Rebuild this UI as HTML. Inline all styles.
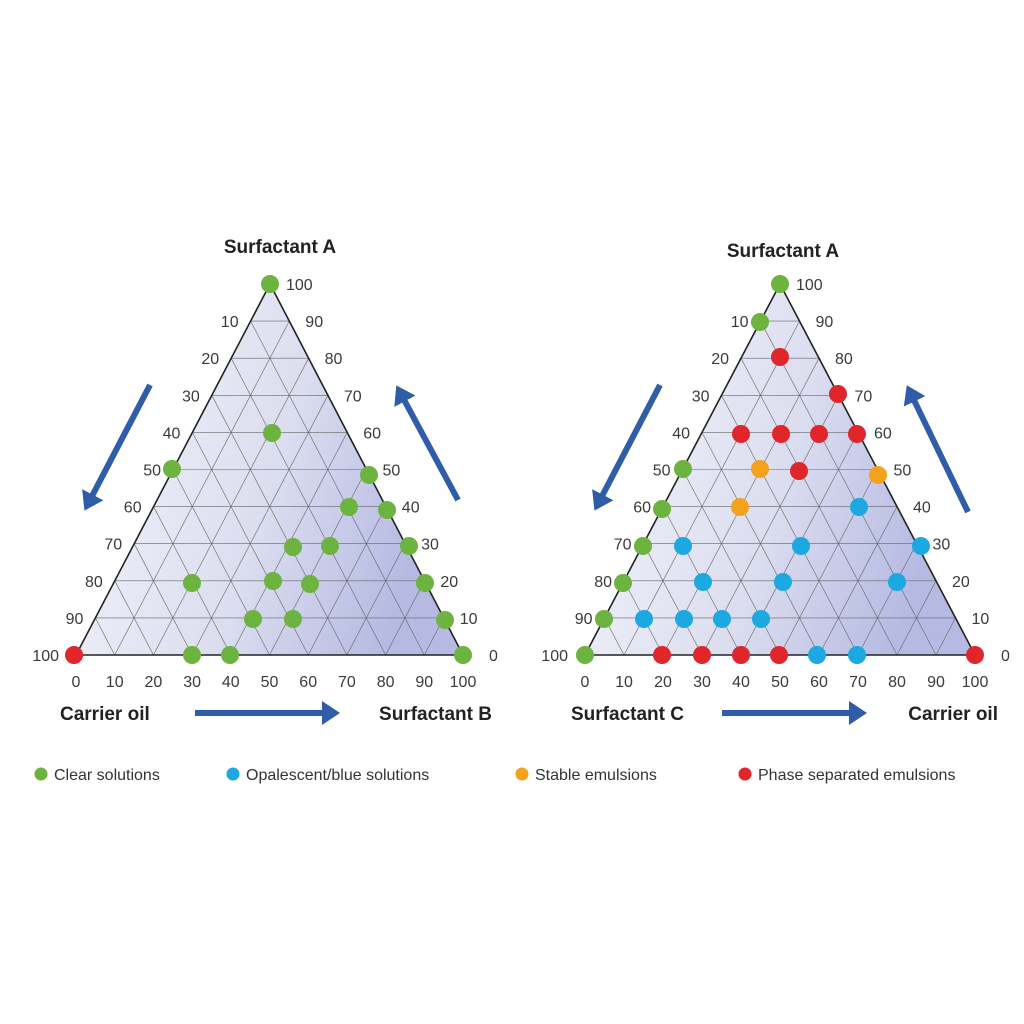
<!DOCTYPE html>
<html><head><meta charset="utf-8"><style>
body{margin:0;background:#fff;}
svg{display:block;font-family:"Liberation Sans",sans-serif;}
.t{font-size:16px;fill:#3a3a3a;}
.h{font-size:19px;font-weight:bold;fill:#222;}
.l{font-size:16px;fill:#333;}
</style></head><body>
<svg id="s" width="1024" height="1024" viewBox="0 0 1024 1024" xmlns="http://www.w3.org/2000/svg">
<defs>
<linearGradient id="g" x1="0" y1="0" x2="1" y2="0.3">
<stop offset="0" stop-color="#f6f7fc"/><stop offset="0.6" stop-color="#dcdef0"/><stop offset="1" stop-color="#b6bae2"/>
</linearGradient>
<marker id="ah" markerWidth="4" markerHeight="4" refX="1" refY="2" orient="auto" markerUnits="strokeWidth"><path d="M0,0 L3,2 L0,4 z" fill="#2f5da8"/></marker>
</defs>
<g id="root"></g>
</svg>
<script>
var NS="http://www.w3.org/2000/svg",root=document.getElementById("root");
function el(t,a,txt){var e=document.createElementNS(NS,t);for(var k in a)e.setAttribute(k,a[k]);if(txt!=null)e.textContent=txt;root.appendChild(e);return e;}
function tri(ax,ay,lx,rx,by){
 el("polygon",{points:ax+","+ay+" "+lx+","+by+" "+rx+","+by,fill:"url(#g)"});
 var H=by-ay;
 for(var i=1;i<10;i++){
  var f=i/10;
  var y=by-H*f, xl=lx+(ax-lx)*f, xr=rx+(ax-rx)*f;
  el("line",{x1:xl,y1:y,x2:xr,y2:y,stroke:"#666",'stroke-width':0.6});
  var bx=lx+(rx-lx)*f;
  el("line",{x1:bx,y1:by,x2:bx+(ax-lx)*(1-f),y2:by-H*(1-f),stroke:"#666",'stroke-width':0.6});
  el("line",{x1:bx,y1:by,x2:bx-(rx-ax)*f,y2:by-H*f,stroke:"#666",'stroke-width':0.6});
 }
 el("polygon",{points:ax+","+ay+" "+lx+","+by+" "+rx+","+by,fill:"none",stroke:"#222",'stroke-width':1.6});
 for(var i=0;i<=10;i++){
  var f=i/10;
  el("text",{x:lx+(rx-lx)*f,y:by+32,'text-anchor':"middle",class:"t"},String(i*10));
  if(i>0){var y=ay+H*f, x=ax+(lx-ax)*f;
   el("text",{x:x-(i==10?17:12),y:y+6,'text-anchor':"end",class:"t"},String(i*10));}
  var y2=by-H*f, x2=rx+(ax-rx)*f;
  el("text",{x:x2+(i==0?26:16),y:y2+6,'text-anchor':"start",class:"t"},String(i*10));
 }
}
tri(270,284,76,463,655);
tri(780,284,585,975,655);
var C={g:"#6cb33f",b:"#1ca9e1",o:"#f4a21c",r:"#e0262b"};
var pts=[
["g",270,284],["g",272,433],["g",172,469],["g",369,475],["g",349,507],["g",387,510],["g",293,547],["g",330,546],["g",409,546],["g",192,583],["g",273,581],["g",310,584],["g",425,583],["g",253,619],["g",293,619],["g",445,620],["g",192,655],["g",230,655],["g",463,655],["r",74,655],
["g",780,284],["g",760,322],["g",683,469],["g",662,509],["g",643,546],["g",623,583],["g",604,619],["g",585,655],
["r",780,357],["r",838,394],["r",741,434],["r",781,434],["r",819,434],["r",857,434],["r",799,471],["r",662,655],["r",702,655],["r",741,655],["r",779,655],["r",975,655],
["o",760,469],["o",878,475],["o",740,507],
["b",859,507],["b",683,546],["b",801,546],["b",921,546],["b",703,582],["b",783,582],["b",897,582],["b",644,619],["b",684,619],["b",722,619],["b",761,619],["b",817,655],["b",857,655]];
pts.forEach(function(p){el("circle",{cx:p[1],cy:p[2],r:9,fill:C[p[0]]});});
el("text",{x:280,y:253,'text-anchor':"middle",class:"h"},"Surfactant A");
el("text",{x:783,y:257,'text-anchor':"middle",class:"h"},"Surfactant A");
el("text",{x:60,y:720,class:"h"},"Carrier oil");
el("text",{x:492,y:720,'text-anchor':"end",class:"h"},"Surfactant B");
el("text",{x:571,y:720,class:"h"},"Surfactant C");
el("text",{x:998,y:720,'text-anchor':"end",class:"h"},"Carrier oil");
function arr(x1,y1,x2,y2){el("line",{x1:x1,y1:y1,x2:x2,y2:y2,stroke:"#2f5da8",'stroke-width':6,'marker-end':"url(#ah)"});}
arr(150,385,90,500);arr(458,500,402,396);arr(195,713,328,713);
arr(660,385,600,500);arr(968,512,912,396);arr(722,713,855,713);
[["g",41,"Clear solutions"],["b",233,"Opalescent/blue solutions"],["o",522,"Stable emulsions"],["r",745,"Phase separated emulsions"]].forEach(function(l){
 el("circle",{cx:l[1],cy:774,r:6.5,fill:C[l[0]]});
 el("text",{x:l[1]+13,y:780,class:"l"},l[2]);
});
</script>
</body></html>
